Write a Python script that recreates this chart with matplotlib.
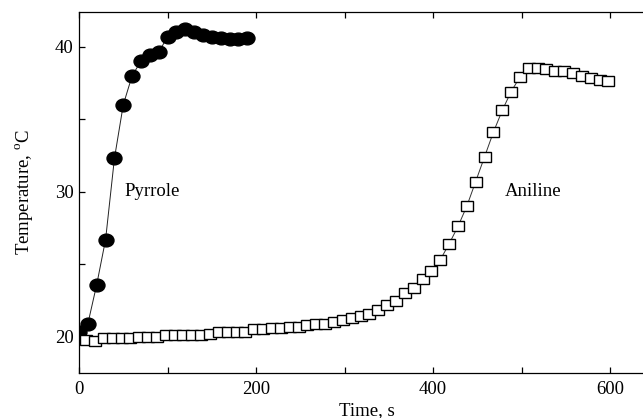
import matplotlib
matplotlib.use('Agg')
from matplotlib import pyplot as plt
from matplotlib.ticker import MultipleLocator
from matplotlib.markers import MarkerStyle
from matplotlib.transforms import Affine2D

plt.rcParams['font.family'] = ['Liberation Serif', 'DejaVu Serif']
plt.rcParams['mathtext.fontset'] = 'custom'
plt.rcParams['mathtext.rm'] = 'Liberation Serif'

# Pyrrole polymerisation, temperature vs time
pyr_t = [0, 10, 20, 30, 40, 50, 60, 70, 80, 90,
         100, 110, 120, 130, 140, 150, 160, 170, 180, 190]
pyr_T = [20.3, 20.9, 23.6, 26.7, 32.3, 36.0, 38.0, 39.0, 39.4, 39.6,
         40.7, 41.0, 41.2, 41.0, 40.8, 40.7, 40.6, 40.55, 40.55, 40.6]

# Aniline polymerisation
ani_t = [8, 18, 28, 38, 48, 58, 68, 78, 88, 98,
         108, 118, 128, 138, 148, 158, 168, 178, 188, 198,
         208, 218, 228, 238, 248, 258, 268, 278, 288, 298,
         308, 318, 328, 338, 348, 358, 368, 378, 388, 398,
         408, 418, 428, 438, 448, 458, 468, 478, 488, 498,
         508, 518, 528, 538, 548, 558, 568, 578, 588, 598]
ani_T = [19.8, 19.7, 19.9, 19.9, 19.9, 19.9, 20.0, 20.0, 20.0, 20.1,
         20.1, 20.1, 20.1, 20.1, 20.2, 20.3, 20.3, 20.3, 20.3, 20.5,
         20.55, 20.6, 20.6, 20.7, 20.7, 20.8, 20.85, 20.9, 21.0, 21.15,
         21.3, 21.4, 21.55, 21.85, 22.2, 22.45, 23.0, 23.35, 23.95, 24.55,
         25.3, 26.4, 27.6, 29.0, 30.7, 32.4, 34.1, 35.6, 36.9, 37.9,
         38.55, 38.55, 38.45, 38.35, 38.3, 38.2, 37.95, 37.85, 37.7, 37.6]

fig = plt.figure(figsize=(6.43, 4.18), dpi=100)
ax = fig.add_axes([0.1229, 0.1084, 0.895, 0.8636])

# the original scan is a bit wider than tall, so are its markers
wide = Affine2D().scale(1.17, 1.0)
circ = MarkerStyle('o', transform=wide)
sq = MarkerStyle('s', transform=wide)

ax.plot(pyr_t, pyr_T, color='#222222', lw=0.7, marker=circ, ms=9.2,
        mfc='black', mec='black')
ax.plot(ani_t, ani_T, color='#333333', lw=0.7, marker=sq, ms=7.9,
        mfc='white', mec='black', mew=1.0)

ax.text(51, 30, 'Pyrrole', fontsize=13.5, ha='left', va='center')
ax.text(481, 30, 'Aniline', fontsize=13.5, ha='left', va='center')

ax.set_xlim(0, 650)
ax.set_ylim(17.52, 42.41)
ax.xaxis.set_major_locator(MultipleLocator(200))
ax.xaxis.set_minor_locator(MultipleLocator(100))
ax.yaxis.set_major_locator(MultipleLocator(10))
ax.yaxis.set_minor_locator(MultipleLocator(5))
ax.tick_params(which='both', direction='in', top=True, right=True,
               length=4, width=0.9, labelsize=13.5)
ax.tick_params(axis='x', pad=6)
ax.tick_params(axis='y', pad=4)
for s in ax.spines.values():
    s.set_linewidth(0.9)

ax.set_xlabel('Time, s', fontsize=13.5, labelpad=3)
ax.set_ylabel(r'Temperature, $^{\mathrm{o}}$C', fontsize=13.5, labelpad=14)

plt.savefig('out.png', dpi=100)
